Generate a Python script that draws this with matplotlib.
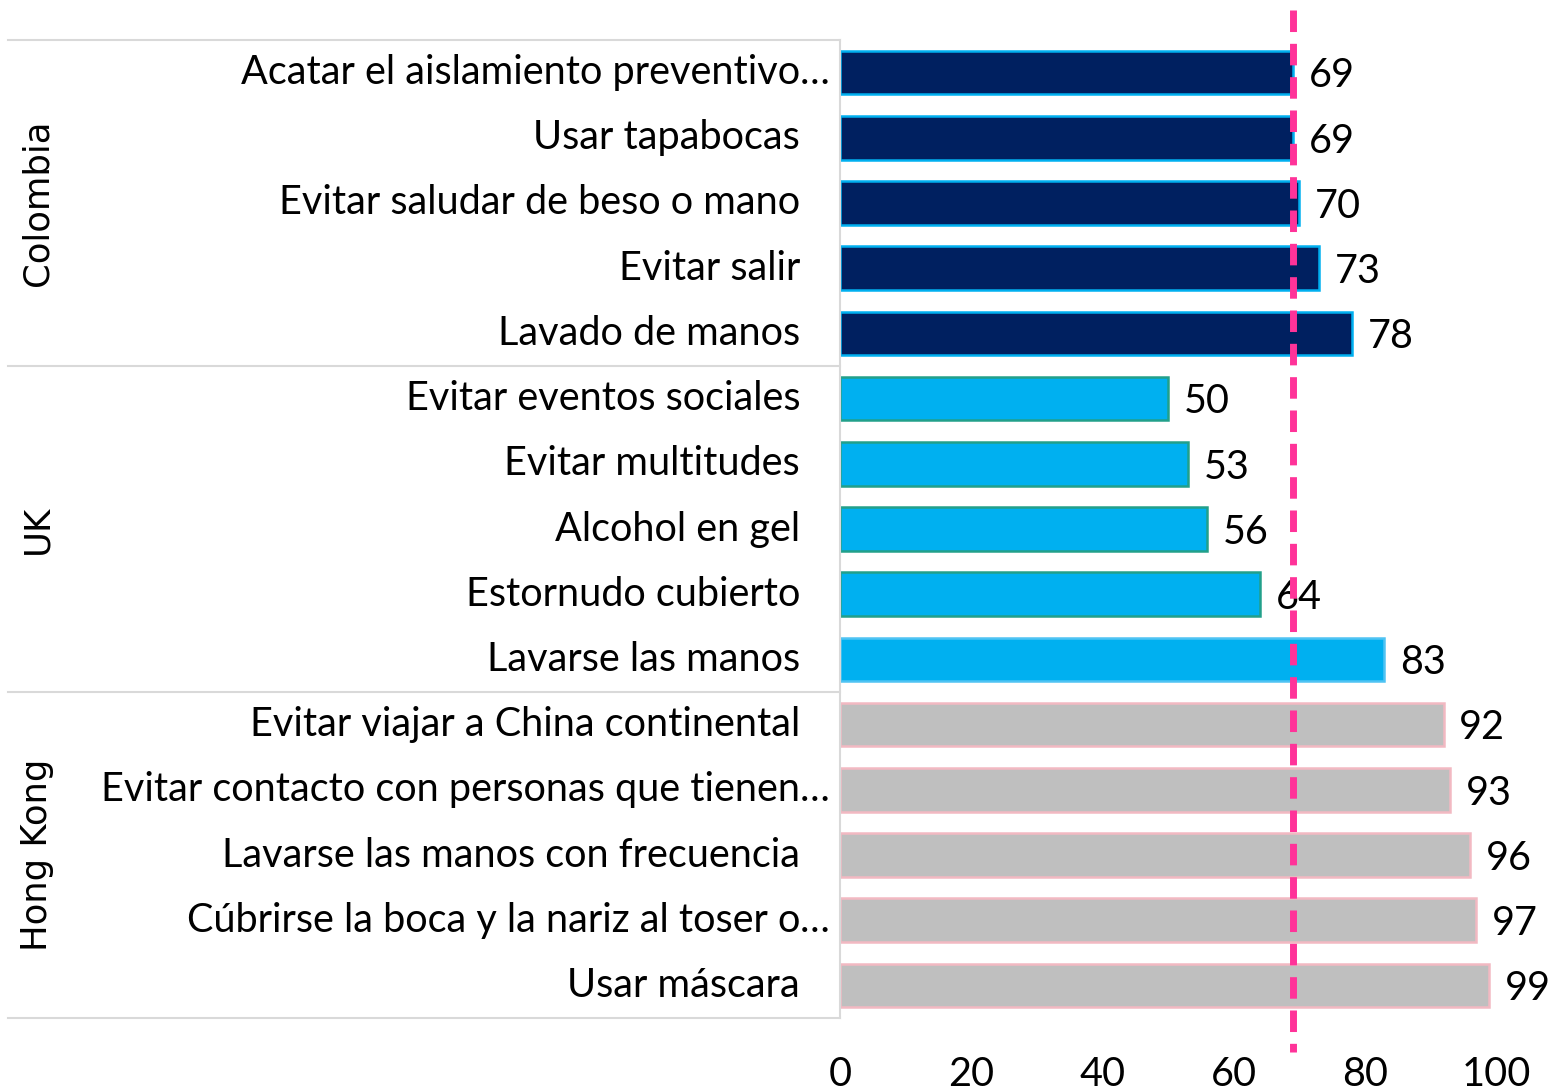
import matplotlib
matplotlib.use("Agg")
import matplotlib.pyplot as plt
import numpy as np

# datos
groups = ["Colombia", "UK", "Hong Kong"]
labels = [
    "Acatar el aislamiento preventivo…",
    "Usar tapabocas",
    "Evitar saludar de beso o mano",
    "Evitar salir",
    "Lavado de manos",
    "Evitar eventos sociales",
    "Evitar multitudes",
    "Alcohol en gel",
    "Estornudo cubierto",
    "Lavarse las manos",
    "Evitar viajar a China continental",
    "Evitar contacto con personas que tienen…",
    "Lavarse las manos con frecuencia",
    "Cúbrirse la boca y la nariz al toser o…",
    "Usar máscara",
]
values = [69, 69, 70, 73, 78, 50, 53, 56, 64, 83, 92, 93, 96, 97, 99]
group_sizes = [5, 5, 5]
reference = 69
xticks = [0, 20, 40, 60, 80, 100]

fill_colors = ["#002060"] * 5 + ["#00B0F0"] * 5 + ["#BFBFBF"] * 5
edge_colors = ["#00B0F0"] * 5 + ["#22A08A"] * 4 + ["#4FC3F3"] + ["#F2B9C2"] * 5

label_font = "Lato"
label_size = 28.5

fig = plt.figure(figsize=(15.52, 10.90), dpi=100)
ax = fig.add_axes([840 / 1552, 1 - 1018 / 1090, 656 / 1552, 978 / 1090])

y = np.arange(len(values))
ax.barh(y, values, height=0.67, color=fill_colors, edgecolor=edge_colors, linewidth=1.8)

ax.set_ylim(len(values) - 0.5, -0.5)
ax.set_xlim(0, 100)

for yi, v in zip(y, values):
    ax.text(v + 2.4, yi + 0.05, str(v), va="center", ha="left",
            fontsize=label_size, family=label_font, color="black")

# etiquetas de categoria (la elipsis cuelga a la derecha)
x_lab = (800 - 840) / 656 * 100
for yi, lab in zip(y, labels):
    if lab.endswith("…"):
        ax.text(x_lab, yi, lab[:-1], va="center", ha="right", fontsize=label_size,
                family=label_font, clip_on=False)
        ax.text(x_lab, yi, "…", va="center", ha="left", fontsize=label_size,
                family=label_font, clip_on=False)
    else:
        ax.text(x_lab, yi, lab, va="center", ha="right", fontsize=label_size,
                family=label_font, clip_on=False)

# linea de referencia
ax.plot([reference, reference], [-0.96, len(values) + 0.02], color="#FF3399",
        linewidth=5, linestyle=(0, (3.1, 1.7)), clip_on=False, zorder=5)

# marco de grupos
x_left = (8 - 840) / 656 * 100
bounds = np.concatenate([[0], np.cumsum(group_sizes)]) - 0.5
for b in bounds:
    ax.plot([x_left, 0], [b, b], color="#D9D9D9", linewidth=1.5, clip_on=False)
ax.plot([0, 0], [bounds[0], bounds[-1]], color="#D9D9D9", linewidth=1.5, clip_on=False)

x_grp = (37 - 840) / 656 * 100
for g, lo, hi in zip(groups, bounds[:-1], bounds[1:]):
    ax.text(x_grp, (lo + hi) / 2, g, rotation=90, va="center", ha="center",
            fontsize=25.5, family="DejaVu Sans", clip_on=False)

for s in ax.spines.values():
    s.set_visible(False)
ax.set_yticks([])
ax.set_xticks(xticks)
ax.set_xticklabels([str(t) for t in xticks], fontsize=label_size, family=label_font)
ax.tick_params(axis="x", length=0, pad=27)

fig.savefig("out.png", dpi=100)
